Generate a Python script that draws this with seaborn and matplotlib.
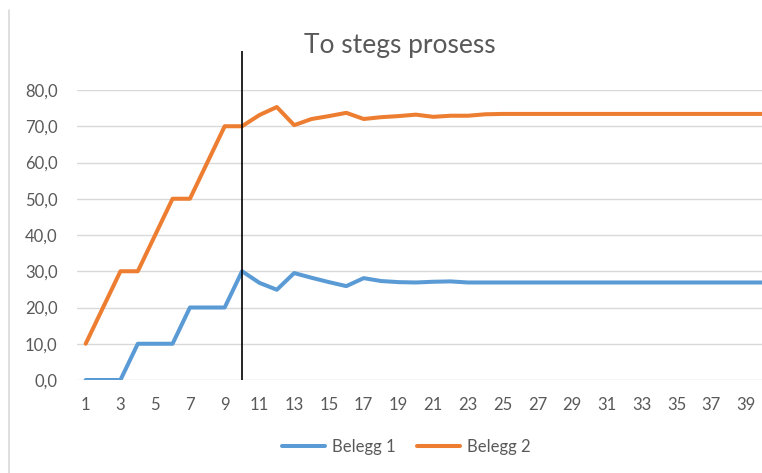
import matplotlib
matplotlib.use("Agg")
import matplotlib.pyplot as plt
from matplotlib.lines import Line2D
import pandas as pd
import seaborn as sns

# Observations 1..40 for the two coatings
steps = list(range(1, 41))
belegg_1 = [0, 0, 0, 10, 10, 10, 20, 20, 20, 30,
            26.8, 24.9, 29.5, 28.2, 27.0, 25.9, 28.1, 27.3, 27.0, 26.9,
            27.1, 27.2, 26.9, 26.9, 26.9, 26.9, 26.9, 26.9, 26.9, 26.9,
            26.9, 26.9, 26.9, 26.9, 26.9, 26.9, 26.9, 26.9, 26.9, 26.9]
belegg_2 = [10, 20, 30, 30, 40, 50, 50, 60, 70, 70,
            73.1, 75.3, 70.3, 72.0, 72.8, 73.7, 72.0, 72.5, 72.8, 73.2,
            72.6, 72.9, 72.9, 73.3, 73.4, 73.4, 73.4, 73.4, 73.4, 73.4,
            73.4, 73.4, 73.4, 73.4, 73.4, 73.4, 73.4, 73.4, 73.4, 73.4]
series_names = ["Belegg 1", "Belegg 2"]
series_colors = ["#5B9BD5", "#ED7D31"]
y_ticks = [0, 10, 20, 30, 40, 50, 60, 70, 80]
x_ticks = list(range(1, 41, 2))
title = "To stegs prosess"

# Boundary between the two process stages
split_x = 10
split_top = 90.8

df = pd.DataFrame({
    "step": steps * 2,
    "value": belegg_1 + belegg_2,
    "serie": [series_names[0]] * len(steps) + [series_names[1]] * len(steps),
})

sns.set_theme(style="white")
plt.rcParams["font.family"] = ["Lato", "DejaVu Sans"]

text_color = "#595959"
grid_color = "#d9d9d9"

fig = plt.figure(figsize=(7.62, 4.73), dpi=100)
ax = fig.add_axes([77 / 762, 93 / 473, 695 / 762, 290 / 473])

for yv in y_ticks:
    ax.axhline(yv, color=grid_color, lw=1.0, zorder=0)

sns.lineplot(data=df, x="step", y="value", hue="serie", palette=series_colors,
             hue_order=series_names, linewidth=2.9, ax=ax, legend=False)
for line in ax.lines:
    line.set_solid_joinstyle("round")
    line.set_solid_capstyle("round")

ax.vlines(split_x, 0, split_top, color="black", lw=1.2, clip_on=False, zorder=5)

ax.set_xlim(0.5, 40.5)
ax.set_ylim(0, 80)
ax.set_xticks(x_ticks)
ax.set_xticklabels([str(v) for v in x_ticks])
ax.set_yticks(y_ticks)
ax.set_yticklabels([f"{v:.1f}".replace(".", ",") for v in y_ticks])
ax.tick_params(axis="both", length=0, labelsize=12, labelcolor=text_color)
ax.tick_params(axis="x", pad=12)
ax.tick_params(axis="y", pad=14)
ax.set_xlabel("")
ax.set_ylabel("")
for sp in ax.spines.values():
    sp.set_visible(False)

fig.text(400 / 762, 1 - 53 / 473, title, ha="center", va="baseline",
         fontsize=19, color=text_color, fontweight="normal")

handles = [Line2D([], [], color=c, lw=2.9, solid_capstyle="round") for c in series_colors]
fig.legend(handles, series_names, loc="center", bbox_to_anchor=(406 / 762, 1 - 447 / 473),
           ncol=2, frameon=False, fontsize=12, labelcolor=text_color,
           handlelength=2.6, handletextpad=0.4, columnspacing=1.3)

# Left border of the chart area
fig.add_artist(Line2D([8.5 / 762, 8.5 / 762], [0, 1 - 10 / 473], color=grid_color,
                      lw=1.2, transform=fig.transFigure))

fig.savefig("out.png", dpi=100)
